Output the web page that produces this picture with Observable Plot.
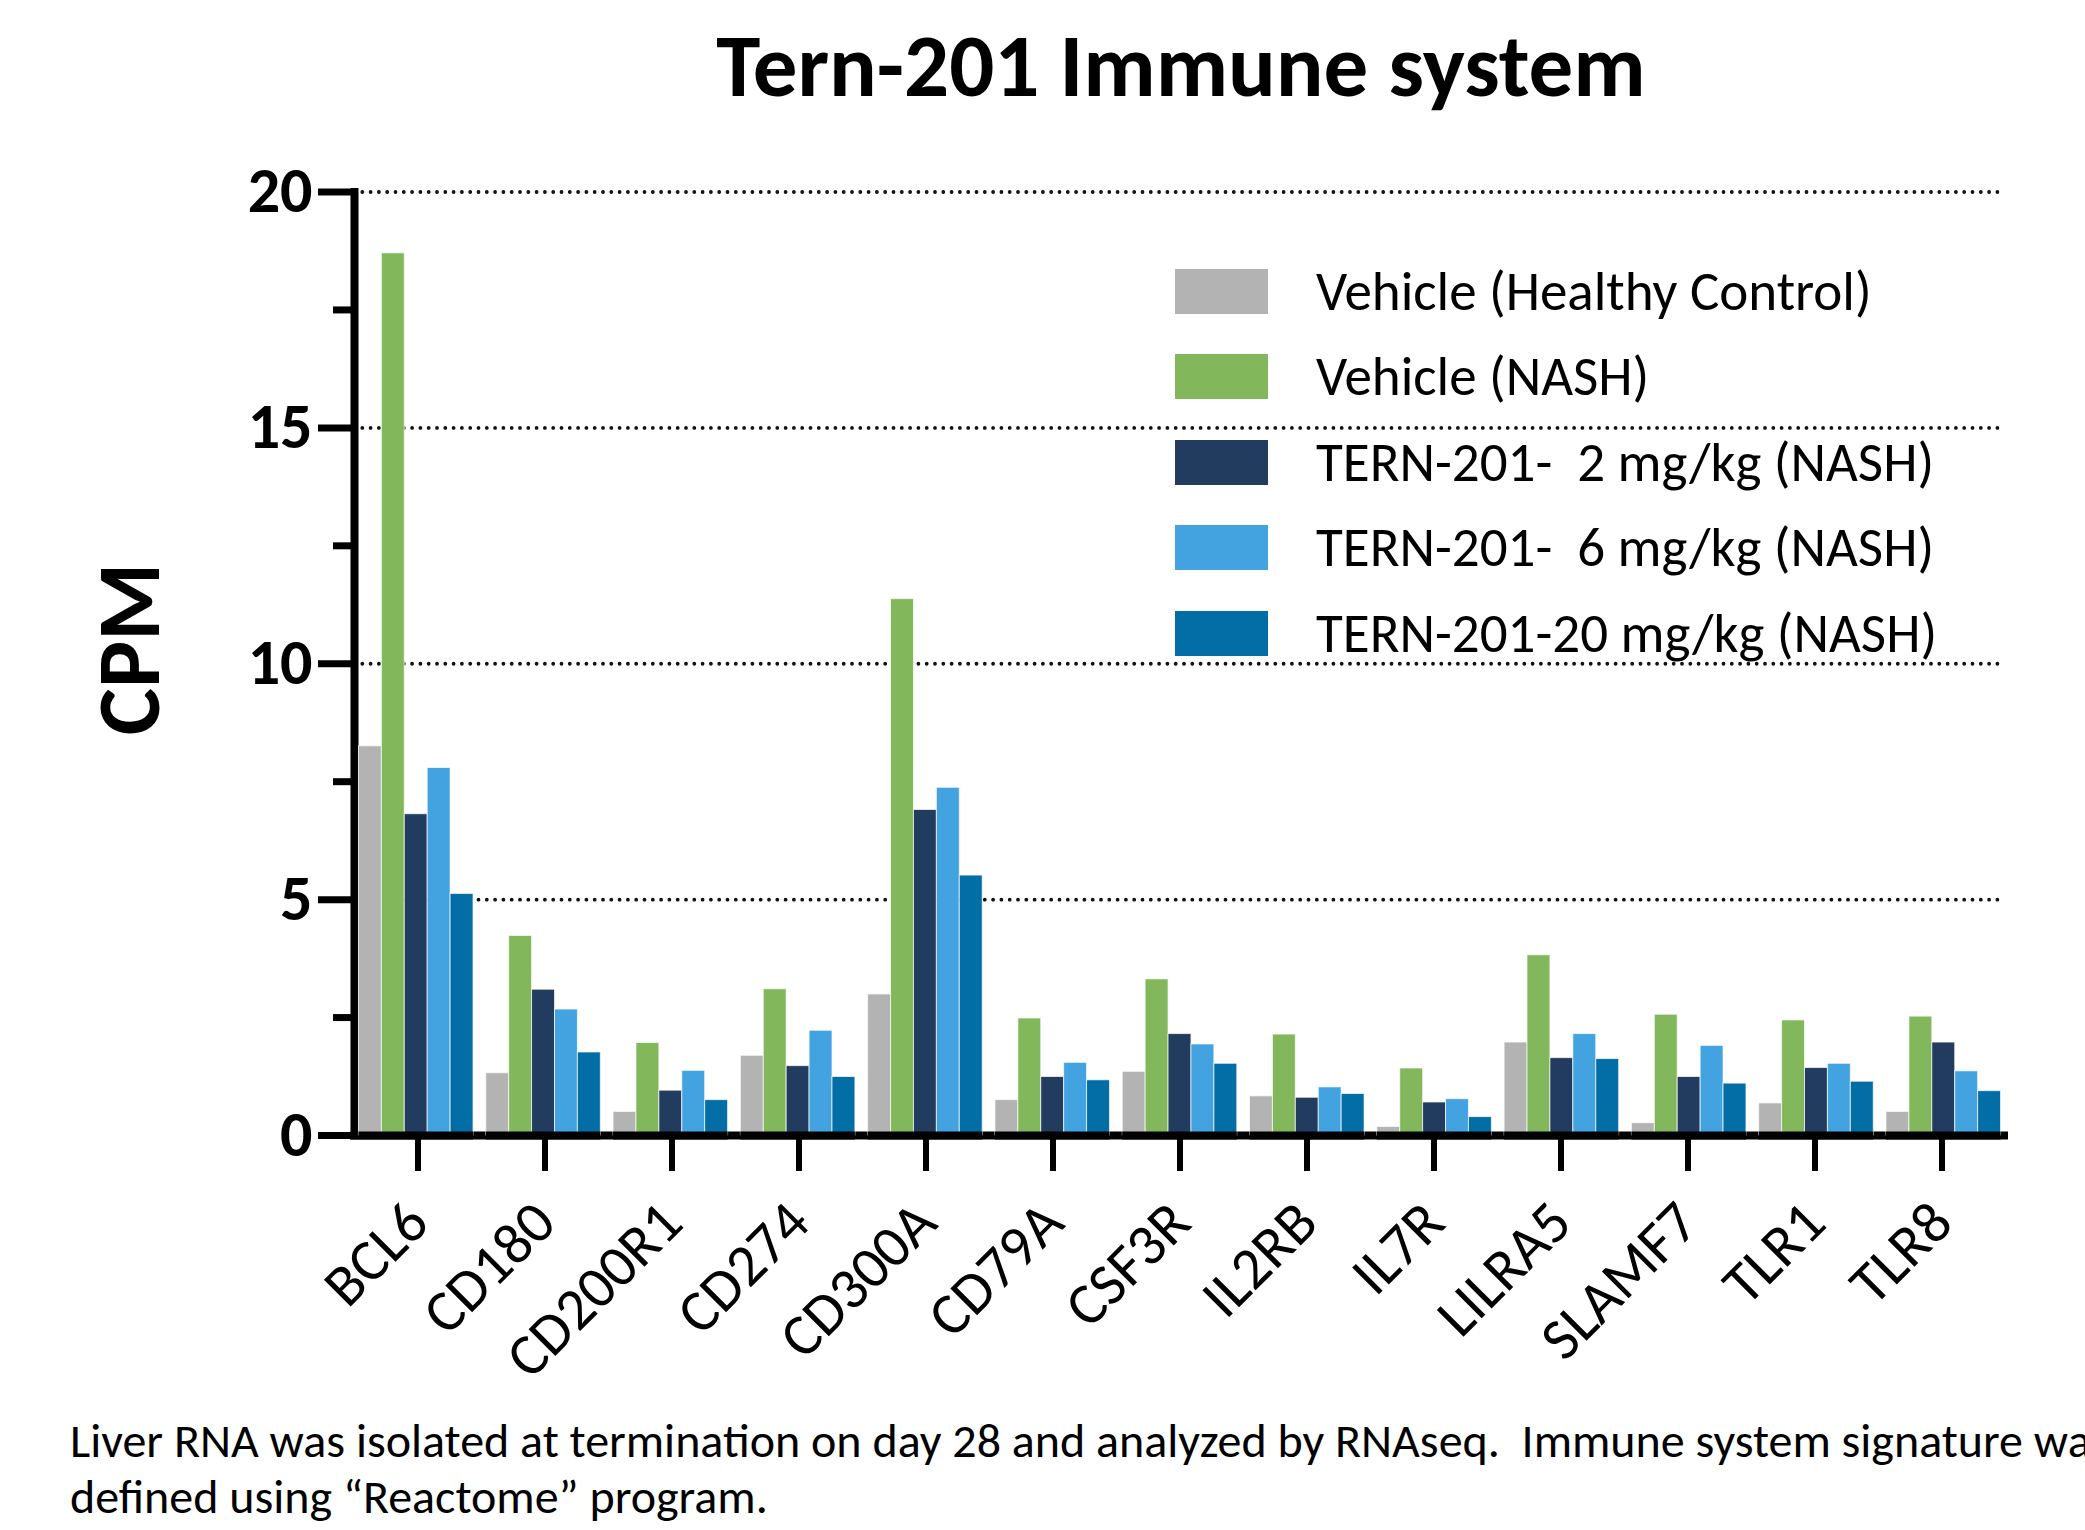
<!DOCTYPE html>
<html>
<head>
<meta charset="utf-8">
<script src="https://cdn.jsdelivr.net/npm/d3@7"></script>
<script src="https://cdn.jsdelivr.net/npm/@observablehq/plot@0.6"></script>
<style>
  html, body { margin: 0; padding: 0; background: #fff; }
  body { width: 2085px; height: 1530px; overflow: hidden; position: relative; font-family: Carlito, Lato, sans-serif; color: #000; }
  #title { position: absolute; left: 1181px; top: 21px; transform: translateX(-50%); font-size: 89px; line-height: 89px; font-weight: bold; white-space: nowrap; }
  #ylabel { position: absolute; left: 128px; top: 649px; transform: translate(-50%, -50%) rotate(-90deg); font-size: 89px; line-height: 89px; font-weight: bold; white-space: nowrap; }
  .layer { position: absolute; left: 0; top: 130px; }
  .layer svg { max-width: none !important; display: block; }
  #legend { position: absolute; left: 0; top: 0; }
  .lg-row { position: absolute; left: 1175px; height: 45px; display: flex; align-items: center; white-space: pre; }
  .lg-sw { width: 93px; height: 45px; }
  .lg-tx { margin-left: 48px; font-size: 55px; line-height: 45px; }
  #caption { position: absolute; left: 70px; top: 1413px; font-size: 48px; line-height: 56px; white-space: pre; }
</style>
</head>
<body>
<div id="title"></div>
<div id="ylabel"></div>
<div id="axes" class="layer"></div>
<div id="bars" class="layer"></div>
<div id="legend"></div>
<div id="caption"></div>
<script>
// ---- data ----
const titleText = "Tern-201 Immune system";
const yLabelText = "CPM";
const captionLines = [
  "Liver RNA was isolated at termination on day 28 and analyzed by RNAseq.  Immune system signature was",
  "defined using \u201CReactome\u201D program."
];
const genes = ["BCL6", "CD180", "CD200R1", "CD274", "CD300A", "CD79A", "CSF3R", "IL2RB", "IL7R", "LILRA5", "SLAMF7", "TLR1", "TLR8"];
const seriesNames = [
  "Vehicle (Healthy Control)",
  "Vehicle (NASH)",
  "TERN-201-  2 mg/kg (NASH)",
  "TERN-201-  6 mg/kg (NASH)",
  "TERN-201-20 mg/kg (NASH)"
];
const seriesColors = ["#B3B3B3", "#82B85B", "#223C5F", "#43A3E0", "#036DA6"];
const vehicleHealthy = [8.25, 1.32, 0.50, 1.69, 2.99, 0.75, 1.35, 0.83, 0.18, 1.97, 0.26, 0.68, 0.50];
const vehicleNash    = [18.70, 4.23, 1.96, 3.10, 11.37, 2.48, 3.31, 2.14, 1.42, 3.82, 2.56, 2.44, 2.52];
const tern2          = [6.81, 3.09, 0.95, 1.47, 6.90, 1.24, 2.15, 0.80, 0.70, 1.64, 1.24, 1.43, 1.97];
const tern6          = [7.79, 2.67, 1.37, 2.22, 7.37, 1.54, 1.93, 1.02, 0.77, 2.15, 1.90, 1.52, 1.36];
const tern20         = [5.12, 1.76, 0.75, 1.24, 5.51, 1.17, 1.52, 0.88, 0.39, 1.62, 1.10, 1.14, 0.94];
const yMajorTicks = [0, 5, 10, 15, 20];
const yMinorTicks = [2.5, 7.5, 12.5, 17.5];
const gridValues = [5, 10, 15, 20];

// ---- build ----
const seriesValues = [vehicleHealthy, vehicleNash, tern2, tern6, tern20];
const rows = genes.flatMap((g, i) => seriesNames.map((s, j) => ({gene: g, series: s, value: seriesValues[j][i]})));

document.getElementById("title").textContent = titleText;
document.getElementById("ylabel").textContent = yLabelText;
document.getElementById("caption").textContent = captionLines.join("\n");

const FONT = "Carlito, Lato, sans-serif";
const common = {
  width: 2085,
  height: 1270,
  marginLeft: 354,
  marginRight: 80,
  marginTop: 61.5,
  marginBottom: 265,
  style: {fontFamily: FONT, background: "transparent", overflow: "visible", color: "#000"}
};
const geneBand = {domain: genes, paddingInner: 0.1, paddingOuter: 0.035, round: false};
const yScale = {domain: [0, 20], axis: null};

// Layer 1: grid lines and axes
const axesPlot = Plot.plot({
  ...common,
  x: {...geneBand, label: null},
  y: yScale,
  marks: [
    Plot.ruleY(gridValues, {stroke: "#111", strokeWidth: 3.8, strokeDasharray: "0,8.3", strokeLinecap: "round"}),
    Plot.axisY(yMajorTicks, {tickSize: 36, tickPadding: 6, strokeWidth: 7, stroke: "#000", fill: "#000", fontSize: 64, fontWeight: "900", label: null}),
    Plot.axisY(yMinorTicks, {tickSize: 21, strokeWidth: 7, stroke: "#000", text: null, label: null}),
    Plot.ruleY([0], {stroke: "#000", strokeWidth: 8, insetLeft: -4, insetRight: -3}),
    Plot.frame({anchor: "left", stroke: "#000", strokeWidth: 8}),
    Plot.axisX({anchor: "bottom", tickSize: 36, strokeWidth: 6, stroke: "#000", fill: "#000", tickRotate: -45, tickPadding: 41, fontSize: 59, label: null})
  ]
});
document.getElementById("axes").appendChild(axesPlot);

// Layer 2: grouped bars
const barsPlot = Plot.plot({
  ...common,
  fx: {...geneBand, axis: null, label: null},
  x: {domain: seriesNames, axis: null, paddingInner: 0, paddingOuter: 0, round: false},
  y: yScale,
  color: {domain: seriesNames, range: seriesColors},
  marks: [
    Plot.barY(rows, {fx: "gene", x: "series", y: "value", fill: "series", stroke: "#fff", strokeWidth: 1, strokeOpacity: 0.7}),
    Plot.ruleY([0], {stroke: "#000", strokeWidth: 8})
  ]
});
document.getElementById("bars").appendChild(barsPlot);

// ---- legend ----
const legend = document.getElementById("legend");
seriesNames.forEach((name, i) => {
  const row = document.createElement("div");
  row.className = "lg-row";
  row.style.top = (269 + i * 85.4) + "px";
  const sw = document.createElement("div");
  sw.className = "lg-sw";
  sw.style.background = seriesColors[i];
  const tx = document.createElement("div");
  tx.className = "lg-tx";
  tx.textContent = name;
  row.appendChild(sw);
  row.appendChild(tx);
  legend.appendChild(row);
});
</script>
</body>
</html>
